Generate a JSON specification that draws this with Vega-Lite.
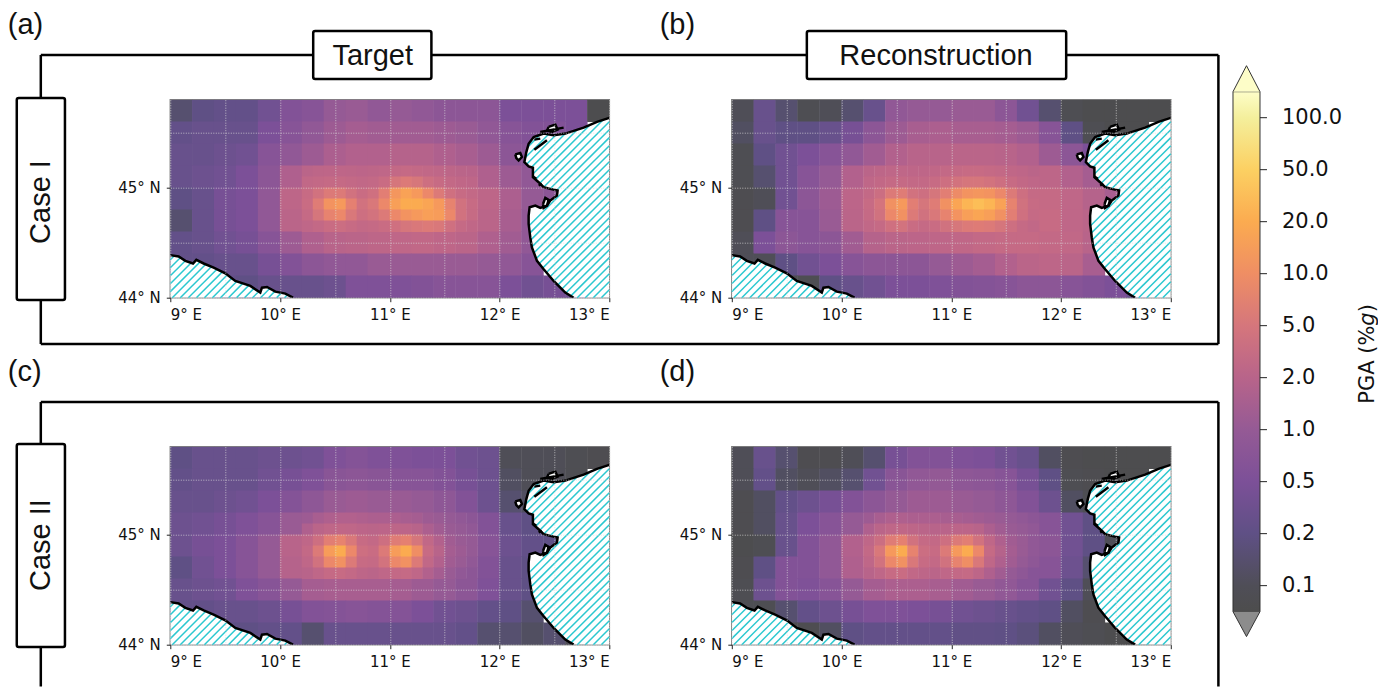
{"$schema":"https://vega.github.io/schema/vega-lite/v6.json","background":"white","padding":{"left":6.3,"top":9.7,"right":0,"bottom":0},"bounds":"flush","columns":3,"spacing":{"row":149,"column":122.5},"resolve":{"scale":{"color":"shared"}},
"config":{"legend":{"disable":true},"view":{"stroke":"#808080","strokeWidth":1.5},"axis":{"title":null,"domain":false,"grid":true,"gridColor":"#dddddd","gridOpacity":0.75,"gridDash":[1,1.5],"labelFont":"DejaVu Sans","labelFontSize":15,"labelColor":"#111","tickColor":"#222","tickSize":4,"labelPadding":6},"text":{"font":"Liberation Sans","fontSize":29,"color":"#111"}},
"datasets":{
"a":[{"x":9.1,"y":45.7,"v":0.15},{"x":9.3,"y":45.7,"v":0.2},{"x":9.5,"y":45.7,"v":0.25},{"x":9.7,"y":45.7,"v":0.25},{"x":9.9,"y":45.7,"v":0.4},{"x":10.1,"y":45.7,"v":0.6},{"x":10.3,"y":45.7,"v":0.7},{"x":10.5,"y":45.7,"v":1},{"x":10.7,"y":45.7,"v":1.1},{"x":10.9,"y":45.7,"v":0.9},{"x":11.1,"y":45.7,"v":1},{"x":11.3,"y":45.7,"v":0.9},{"x":11.5,"y":45.7,"v":0.8},{"x":11.7,"y":45.7,"v":0.8},{"x":11.9,"y":45.7,"v":0.8},{"x":12.1,"y":45.7,"v":0.5},{"x":12.3,"y":45.7,"v":0.5},{"x":12.5,"y":45.7,"v":0.5},{"x":12.7,"y":45.7,"v":0.5},{"x":12.9,"y":45.7,"v":0.06},
{"x":9.1,"y":45.5,"v":0.25},{"x":9.3,"y":45.5,"v":0.3},{"x":9.5,"y":45.5,"v":0.3},{"x":9.7,"y":45.5,"v":0.3},{"x":9.9,"y":45.5,"v":0.5},{"x":10.1,"y":45.5,"v":0.7},{"x":10.3,"y":45.5,"v":0.9},{"x":10.5,"y":45.5,"v":1.2},{"x":10.7,"y":45.5,"v":1.4},{"x":10.9,"y":45.5,"v":1.3},{"x":11.1,"y":45.5,"v":1.3},{"x":11.3,"y":45.5,"v":1.3},{"x":11.5,"y":45.5,"v":1.2},{"x":11.7,"y":45.5,"v":1.1},{"x":11.9,"y":45.5,"v":0.9},{"x":12.1,"y":45.5,"v":0.7},{"x":12.3,"y":45.5,"v":0.6},{"x":12.5,"y":45.5,"v":0.6},{"x":12.7,"y":45.5,"v":0.5},
{"x":9.1,"y":45.3,"v":0.3},{"x":9.3,"y":45.3,"v":0.3},{"x":9.5,"y":45.3,"v":0.35},{"x":9.7,"y":45.3,"v":0.4},{"x":9.9,"y":45.3,"v":0.7},{"x":10.1,"y":45.3,"v":0.9},{"x":10.3,"y":45.3,"v":1.2},{"x":10.5,"y":45.3,"v":1.6},{"x":10.7,"y":45.3,"v":1.8},{"x":10.9,"y":45.3,"v":1.8},{"x":11.1,"y":45.3,"v":1.9},{"x":11.3,"y":45.3,"v":1.9},{"x":11.5,"y":45.3,"v":1.7},{"x":11.7,"y":45.3,"v":1.5},{"x":11.9,"y":45.3,"v":1.2},{"x":12.1,"y":45.3,"v":0.8},{"x":12.3,"y":45.3,"v":0.7},
{"x":9.1,"y":45.1,"v":0.3},{"x":9.3,"y":45.1,"v":0.35},{"x":9.5,"y":45.1,"v":0.4},{"x":9.7,"y":45.1,"v":0.5},{"x":9.9,"y":45.1,"v":0.8},{"x":10.1,"y":45.1,"v":1.7},{"x":11.9,"y":45.1,"v":1.7},{"x":12.1,"y":45.1,"v":1.2},{"x":12.3,"y":45.1,"v":0.9},{"x":12.5,"y":45.1,"v":0.7},
{"x":9.1,"y":44.9,"v":0.2},{"x":9.3,"y":44.9,"v":0.3},{"x":9.5,"y":44.9,"v":0.45},{"x":9.7,"y":44.9,"v":0.5},{"x":9.9,"y":44.9,"v":0.9},{"x":10.1,"y":44.9,"v":2.4},{"x":11.9,"y":44.9,"v":2.4},{"x":12.1,"y":44.9,"v":1.6},{"x":12.3,"y":44.9,"v":1},{"x":12.5,"y":44.9,"v":0.8},
{"x":9.1,"y":44.7,"v":0.15},{"x":9.3,"y":44.7,"v":0.3},{"x":9.5,"y":44.7,"v":0.45},{"x":9.7,"y":44.7,"v":0.5},{"x":9.9,"y":44.7,"v":0.9},{"x":10.1,"y":44.7,"v":2.2},{"x":11.9,"y":44.7,"v":2.2},{"x":12.1,"y":44.7,"v":1.5},{"x":12.3,"y":44.7,"v":0.9},
{"x":9.1,"y":44.5,"v":0.25},{"x":9.3,"y":44.5,"v":0.3},{"x":9.5,"y":44.5,"v":0.4},{"x":9.7,"y":44.5,"v":0.45},{"x":9.9,"y":44.5,"v":0.7},{"x":10.1,"y":44.5,"v":1.2},{"x":10.3,"y":44.5,"v":1.7},{"x":10.5,"y":44.5,"v":2},{"x":10.7,"y":44.5,"v":2.2},{"x":10.9,"y":44.5,"v":2.4},{"x":11.1,"y":44.5,"v":2.6},{"x":11.3,"y":44.5,"v":2.8},{"x":11.5,"y":44.5,"v":2.5},{"x":11.7,"y":44.5,"v":2.2},{"x":11.9,"y":44.5,"v":1.7},{"x":12.1,"y":44.5,"v":1.3},{"x":12.3,"y":44.5,"v":0.9},
{"x":9.1,"y":44.3,"v":0.25},{"x":9.3,"y":44.3,"v":0.25},{"x":9.5,"y":44.3,"v":0.3},{"x":9.7,"y":44.3,"v":0.3},{"x":9.9,"y":44.3,"v":0.45},{"x":10.1,"y":44.3,"v":0.6},{"x":10.3,"y":44.3,"v":0.8},{"x":10.5,"y":44.3,"v":0.9},{"x":10.7,"y":44.3,"v":0.9},{"x":10.9,"y":44.3,"v":1.1},{"x":11.1,"y":44.3,"v":1.1},{"x":11.3,"y":44.3,"v":1.1},{"x":11.5,"y":44.3,"v":1.1},{"x":11.7,"y":44.3,"v":1.1},{"x":11.9,"y":44.3,"v":1},{"x":12.1,"y":44.3,"v":0.9},{"x":12.3,"y":44.3,"v":0.7},
{"x":9.5,"y":44.1,"v":0.25},{"x":9.7,"y":44.1,"v":0.2},{"x":9.9,"y":44.1,"v":0.3},{"x":10.1,"y":44.1,"v":0.3},{"x":10.3,"y":44.1,"v":0.3},{"x":10.5,"y":44.1,"v":0.35},{"x":10.7,"y":44.1,"v":0.55},{"x":10.9,"y":44.1,"v":0.55},{"x":11.1,"y":44.1,"v":0.55},{"x":11.3,"y":44.1,"v":0.6},{"x":11.5,"y":44.1,"v":0.7},{"x":11.7,"y":44.1,"v":0.7},{"x":11.9,"y":44.1,"v":0.7},{"x":12.1,"y":44.1,"v":0.5},{"x":12.3,"y":44.1,"v":0.4},{"x":12.5,"y":44.1,"v":0.45},{"x":12.7,"y":44.1,"v":0.4}],
"aF":[{"x":10.25,"y":45.15,"v":2.2},{"x":10.35,"y":45.15,"v":2.4},{"x":10.45,"y":45.15,"v":2.5},{"x":10.55,"y":45.15,"v":2.5},{"x":10.65,"y":45.15,"v":2.4},{"x":10.75,"y":45.15,"v":2.3},{"x":10.85,"y":45.15,"v":2.4},{"x":10.95,"y":45.15,"v":2.6},{"x":11.05,"y":45.15,"v":3},{"x":11.15,"y":45.15,"v":3.2},{"x":11.25,"y":45.15,"v":3},{"x":11.35,"y":45.15,"v":2.8},{"x":11.45,"y":45.15,"v":2.6},{"x":11.55,"y":45.15,"v":2.4},{"x":11.65,"y":45.15,"v":2.2},{"x":11.75,"y":45.15,"v":2.1},
{"x":10.25,"y":45.05,"v":2.8},{"x":10.35,"y":45.05,"v":3},{"x":10.45,"y":45.05,"v":3.2},{"x":10.55,"y":45.05,"v":3.2},{"x":10.65,"y":45.05,"v":3},{"x":10.75,"y":45.05,"v":2.8},{"x":10.85,"y":45.05,"v":3},{"x":10.95,"y":45.05,"v":3.6},{"x":11.05,"y":45.05,"v":5},{"x":11.15,"y":45.05,"v":6},{"x":11.25,"y":45.05,"v":5.2},{"x":11.35,"y":45.05,"v":4},{"x":11.45,"y":45.05,"v":3.4},{"x":11.55,"y":45.05,"v":3},{"x":11.65,"y":45.05,"v":2.7},{"x":11.75,"y":45.05,"v":2.5},
{"x":10.25,"y":44.95,"v":3.4},{"x":10.35,"y":44.95,"v":4.5},{"x":10.45,"y":44.95,"v":6},{"x":10.55,"y":44.95,"v":6},{"x":10.65,"y":44.95,"v":4.5},{"x":10.75,"y":44.95,"v":3.6},{"x":10.85,"y":44.95,"v":4.2},{"x":10.95,"y":44.95,"v":7},{"x":11.05,"y":44.95,"v":13},{"x":11.15,"y":44.95,"v":17},{"x":11.25,"y":44.95,"v":14},{"x":11.35,"y":44.95,"v":9},{"x":11.45,"y":44.95,"v":6},{"x":11.55,"y":44.95,"v":4.2},{"x":11.65,"y":44.95,"v":3.4},{"x":11.75,"y":44.95,"v":3},
{"x":10.25,"y":44.85,"v":3.6},{"x":10.35,"y":44.85,"v":6.5},{"x":10.45,"y":44.85,"v":12},{"x":10.55,"y":44.85,"v":14},{"x":10.65,"y":44.85,"v":7.5},{"x":10.75,"y":44.85,"v":4.5},{"x":10.85,"y":44.85,"v":5.5},{"x":10.95,"y":44.85,"v":9},{"x":11.05,"y":44.85,"v":16},{"x":11.15,"y":44.85,"v":20},{"x":11.25,"y":44.85,"v":20},{"x":11.35,"y":44.85,"v":18},{"x":11.45,"y":44.85,"v":14},{"x":11.55,"y":44.85,"v":8},{"x":11.65,"y":44.85,"v":4.5},{"x":11.75,"y":44.85,"v":3.4},
{"x":10.25,"y":44.75,"v":3.2},{"x":10.35,"y":44.75,"v":5},{"x":10.45,"y":44.75,"v":8},{"x":10.55,"y":44.75,"v":9},{"x":10.65,"y":44.75,"v":5.5},{"x":10.75,"y":44.75,"v":4},{"x":10.85,"y":44.75,"v":4.6},{"x":10.95,"y":44.75,"v":6},{"x":11.05,"y":44.75,"v":9},{"x":11.15,"y":44.75,"v":12},{"x":11.25,"y":44.75,"v":14},{"x":11.35,"y":44.75,"v":16},{"x":11.45,"y":44.75,"v":15},{"x":11.55,"y":44.75,"v":9},{"x":11.65,"y":44.75,"v":4.5},{"x":11.75,"y":44.75,"v":3.3},
{"x":10.25,"y":44.65,"v":2.6},{"x":10.35,"y":44.65,"v":3},{"x":10.45,"y":44.65,"v":3.6},{"x":10.55,"y":44.65,"v":3.8},{"x":10.65,"y":44.65,"v":3.4},{"x":10.75,"y":44.65,"v":3},{"x":10.85,"y":44.65,"v":3.2},{"x":10.95,"y":44.65,"v":3.6},{"x":11.05,"y":44.65,"v":4.2},{"x":11.15,"y":44.65,"v":5},{"x":11.25,"y":44.65,"v":5.5},{"x":11.35,"y":44.65,"v":6},{"x":11.45,"y":44.65,"v":5.5},{"x":11.55,"y":44.65,"v":4.2},{"x":11.65,"y":44.65,"v":3.2},{"x":11.75,"y":44.65,"v":2.7}],
"b":[{"x":9.1,"y":45.7,"v":0.1},{"x":9.3,"y":45.7,"v":0.3},{"x":9.5,"y":45.7,"v":0.15},{"x":9.7,"y":45.7,"v":0.08},{"x":9.9,"y":45.7,"v":0.1},{"x":10.1,"y":45.7,"v":0.15},{"x":10.3,"y":45.7,"v":0.3},{"x":10.5,"y":45.7,"v":0.9},{"x":10.7,"y":45.7,"v":1},{"x":10.9,"y":45.7,"v":1},{"x":11.1,"y":45.7,"v":1.1},{"x":11.3,"y":45.7,"v":1.1},{"x":11.5,"y":45.7,"v":0.8},{"x":11.7,"y":45.7,"v":0.4},{"x":11.9,"y":45.7,"v":0.15},{"x":12.1,"y":45.7,"v":0.08},{"x":12.3,"y":45.7,"v":0.06},{"x":12.5,"y":45.7,"v":0.06},{"x":12.7,"y":45.7,"v":0.06},{"x":12.9,"y":45.7,"v":0.06},
{"x":9.1,"y":45.5,"v":0.12},{"x":9.3,"y":45.5,"v":0.3},{"x":9.5,"y":45.5,"v":0.2},{"x":9.7,"y":45.5,"v":0.2},{"x":9.9,"y":45.5,"v":0.3},{"x":10.1,"y":45.5,"v":0.45},{"x":10.3,"y":45.5,"v":0.8},{"x":10.5,"y":45.5,"v":1.2},{"x":10.7,"y":45.5,"v":1.5},{"x":10.9,"y":45.5,"v":1.6},{"x":11.1,"y":45.5,"v":1.5},{"x":11.3,"y":45.5,"v":1.5},{"x":11.5,"y":45.5,"v":1.4},{"x":11.7,"y":45.5,"v":1.2},{"x":11.9,"y":45.5,"v":0.7},{"x":12.1,"y":45.5,"v":0.2},{"x":12.3,"y":45.5,"v":0.08},{"x":12.5,"y":45.5,"v":0.06},{"x":12.7,"y":45.5,"v":0.06},
{"x":9.1,"y":45.3,"v":0.08},{"x":9.3,"y":45.3,"v":0.2},{"x":9.5,"y":45.3,"v":0.4},{"x":9.7,"y":45.3,"v":0.5},{"x":9.9,"y":45.3,"v":0.7},{"x":10.1,"y":45.3,"v":0.9},{"x":10.3,"y":45.3,"v":1.3},{"x":10.5,"y":45.3,"v":1.8},{"x":10.7,"y":45.3,"v":2},{"x":10.9,"y":45.3,"v":2},{"x":11.1,"y":45.3,"v":2.2},{"x":11.3,"y":45.3,"v":2.2},{"x":11.5,"y":45.3,"v":2},{"x":11.7,"y":45.3,"v":1.8},{"x":11.9,"y":45.3,"v":1.2},{"x":12.1,"y":45.3,"v":0.8},{"x":12.3,"y":45.3,"v":0.5},
{"x":9.1,"y":45.1,"v":0.08},{"x":9.3,"y":45.1,"v":0.15},{"x":9.5,"y":45.1,"v":0.4},{"x":9.7,"y":45.1,"v":0.7},{"x":9.9,"y":45.1,"v":1},{"x":10.1,"y":45.1,"v":1.8},{"x":11.9,"y":45.1,"v":2.4},{"x":12.1,"y":45.1,"v":1.8},{"x":12.3,"y":45.1,"v":1.4},{"x":12.5,"y":45.1,"v":1},
{"x":9.1,"y":44.9,"v":0.07},{"x":9.3,"y":44.9,"v":0.1},{"x":9.5,"y":44.9,"v":0.4},{"x":9.7,"y":44.9,"v":0.8},{"x":9.9,"y":44.9,"v":1.2},{"x":10.1,"y":44.9,"v":2.3},{"x":11.9,"y":44.9,"v":3.2},{"x":12.1,"y":44.9,"v":2.6},{"x":12.3,"y":44.9,"v":1.9},{"x":12.5,"y":44.9,"v":1.5},
{"x":9.1,"y":44.7,"v":0.07},{"x":9.3,"y":44.7,"v":0.2},{"x":9.5,"y":44.7,"v":0.7},{"x":9.7,"y":44.7,"v":0.7},{"x":9.9,"y":44.7,"v":1.1},{"x":10.1,"y":44.7,"v":2.2},{"x":11.9,"y":44.7,"v":3.4},{"x":12.1,"y":44.7,"v":2.6},{"x":12.3,"y":44.7,"v":2.2},
{"x":9.1,"y":44.5,"v":0.1},{"x":9.3,"y":44.5,"v":0.5},{"x":9.5,"y":44.5,"v":0.8},{"x":9.7,"y":44.5,"v":0.7},{"x":9.9,"y":44.5,"v":0.8},{"x":10.1,"y":44.5,"v":1.3},{"x":10.3,"y":44.5,"v":1.9},{"x":10.5,"y":44.5,"v":2.2},{"x":10.7,"y":44.5,"v":2.3},{"x":10.9,"y":44.5,"v":2.5},{"x":11.1,"y":44.5,"v":2.7},{"x":11.3,"y":44.5,"v":3},{"x":11.5,"y":44.5,"v":3.2},{"x":11.7,"y":44.5,"v":3.2},{"x":11.9,"y":44.5,"v":3},{"x":12.1,"y":44.5,"v":2.8},{"x":12.3,"y":44.5,"v":2},
{"x":9.1,"y":44.3,"v":0.1},{"x":9.3,"y":44.3,"v":0.1},{"x":9.5,"y":44.3,"v":0.2},{"x":9.7,"y":44.3,"v":0.4},{"x":9.9,"y":44.3,"v":0.5},{"x":10.1,"y":44.3,"v":0.7},{"x":10.3,"y":44.3,"v":0.8},{"x":10.5,"y":44.3,"v":0.8},{"x":10.7,"y":44.3,"v":0.8},{"x":10.9,"y":44.3,"v":1},{"x":11.1,"y":44.3,"v":1.2},{"x":11.3,"y":44.3,"v":1.4},{"x":11.5,"y":44.3,"v":1.8},{"x":11.7,"y":44.3,"v":2.2},{"x":11.9,"y":44.3,"v":2.4},{"x":12.1,"y":44.3,"v":2.2},{"x":12.3,"y":44.3,"v":1.5},
{"x":9.5,"y":44.1,"v":0.08},{"x":9.7,"y":44.1,"v":0.08},{"x":9.9,"y":44.1,"v":0.2},{"x":10.1,"y":44.1,"v":0.3},{"x":10.3,"y":44.1,"v":0.4},{"x":10.5,"y":44.1,"v":0.5},{"x":10.7,"y":44.1,"v":0.5},{"x":10.9,"y":44.1,"v":0.55},{"x":11.1,"y":44.1,"v":0.6},{"x":11.3,"y":44.1,"v":0.65},{"x":11.5,"y":44.1,"v":0.7},{"x":11.7,"y":44.1,"v":0.8},{"x":11.9,"y":44.1,"v":0.8},{"x":12.1,"y":44.1,"v":0.7},{"x":12.3,"y":44.1,"v":0.6},{"x":12.5,"y":44.1,"v":0.5},{"x":12.7,"y":44.1,"v":0.3}],
"bF":[{"x":10.25,"y":45.15,"v":2.2},{"x":10.35,"y":45.15,"v":2.4},{"x":10.45,"y":45.15,"v":2.6},{"x":10.55,"y":45.15,"v":2.6},{"x":10.65,"y":45.15,"v":2.5},{"x":10.75,"y":45.15,"v":2.5},{"x":10.85,"y":45.15,"v":2.7},{"x":10.95,"y":45.15,"v":3},{"x":11.05,"y":45.15,"v":3.2},{"x":11.15,"y":45.15,"v":3.4},{"x":11.25,"y":45.15,"v":3.4},{"x":11.35,"y":45.15,"v":3.2},{"x":11.45,"y":45.15,"v":3},{"x":11.55,"y":45.15,"v":2.7},{"x":11.65,"y":45.15,"v":2.5},{"x":11.75,"y":45.15,"v":2.2},
{"x":10.25,"y":45.05,"v":2.6},{"x":10.35,"y":45.05,"v":2.9},{"x":10.45,"y":45.05,"v":3.2},{"x":10.55,"y":45.05,"v":3.2},{"x":10.65,"y":45.05,"v":3},{"x":10.75,"y":45.05,"v":3},{"x":10.85,"y":45.05,"v":3.4},{"x":10.95,"y":45.05,"v":4},{"x":11.05,"y":45.05,"v":4.6},{"x":11.15,"y":45.05,"v":5},{"x":11.25,"y":45.05,"v":5},{"x":11.35,"y":45.05,"v":4.6},{"x":11.45,"y":45.05,"v":4},{"x":11.55,"y":45.05,"v":3.4},{"x":11.65,"y":45.05,"v":2.9},{"x":11.75,"y":45.05,"v":2.6},
{"x":10.25,"y":44.95,"v":3},{"x":10.35,"y":44.95,"v":3.8},{"x":10.45,"y":44.95,"v":6},{"x":10.55,"y":44.95,"v":6.5},{"x":10.65,"y":44.95,"v":4.5},{"x":10.75,"y":44.95,"v":4},{"x":10.85,"y":44.95,"v":5},{"x":10.95,"y":44.95,"v":7},{"x":11.05,"y":44.95,"v":9.5},{"x":11.15,"y":44.95,"v":12},{"x":11.25,"y":44.95,"v":13},{"x":11.35,"y":44.95,"v":12},{"x":11.45,"y":44.95,"v":9},{"x":11.55,"y":44.95,"v":6},{"x":11.65,"y":44.95,"v":4},{"x":11.75,"y":44.95,"v":3.2},
{"x":10.25,"y":44.85,"v":3.4},{"x":10.35,"y":44.85,"v":4.8},{"x":10.45,"y":44.85,"v":11},{"x":10.55,"y":44.85,"v":14},{"x":10.65,"y":44.85,"v":7},{"x":10.75,"y":44.85,"v":5},{"x":10.85,"y":44.85,"v":6.5},{"x":10.95,"y":44.85,"v":11},{"x":11.05,"y":44.85,"v":18},{"x":11.15,"y":44.85,"v":28},{"x":11.25,"y":44.85,"v":35},{"x":11.35,"y":44.85,"v":28},{"x":11.45,"y":44.85,"v":17},{"x":11.55,"y":44.85,"v":8},{"x":11.65,"y":44.85,"v":4.4},{"x":11.75,"y":44.85,"v":3.4},
{"x":10.25,"y":44.75,"v":3.2},{"x":10.35,"y":44.75,"v":4.4},{"x":10.45,"y":44.75,"v":9},{"x":10.55,"y":44.75,"v":11},{"x":10.65,"y":44.75,"v":6},{"x":10.75,"y":44.75,"v":4.4},{"x":10.85,"y":44.75,"v":5.5},{"x":10.95,"y":44.75,"v":8},{"x":11.05,"y":44.75,"v":12},{"x":11.15,"y":44.75,"v":16},{"x":11.25,"y":44.75,"v":18},{"x":11.35,"y":44.75,"v":16},{"x":11.45,"y":44.75,"v":11},{"x":11.55,"y":44.75,"v":7},{"x":11.65,"y":44.75,"v":4.2},{"x":11.75,"y":44.75,"v":3.2},
{"x":10.25,"y":44.65,"v":2.8},{"x":10.35,"y":44.65,"v":3.2},{"x":10.45,"y":44.65,"v":4.2},{"x":10.55,"y":44.65,"v":4.6},{"x":10.65,"y":44.65,"v":3.6},{"x":10.75,"y":44.65,"v":3.2},{"x":10.85,"y":44.65,"v":3.6},{"x":10.95,"y":44.65,"v":4.4},{"x":11.05,"y":44.65,"v":5.2},{"x":11.15,"y":44.65,"v":6},{"x":11.25,"y":44.65,"v":6.4},{"x":11.35,"y":44.65,"v":6},{"x":11.45,"y":44.65,"v":5},{"x":11.55,"y":44.65,"v":4},{"x":11.65,"y":44.65,"v":3.2},{"x":11.75,"y":44.65,"v":2.8}],
"c":[{"x":9.1,"y":45.7,"v":0.2},{"x":9.3,"y":45.7,"v":0.3},{"x":9.5,"y":45.7,"v":0.3},{"x":9.7,"y":45.7,"v":0.3},{"x":9.9,"y":45.7,"v":0.35},{"x":10.1,"y":45.7,"v":0.35},{"x":10.3,"y":45.7,"v":0.4},{"x":10.5,"y":45.7,"v":0.55},{"x":10.7,"y":45.7,"v":0.65},{"x":10.9,"y":45.7,"v":0.55},{"x":11.1,"y":45.7,"v":0.55},{"x":11.3,"y":45.7,"v":0.5},{"x":11.5,"y":45.7,"v":0.5},{"x":11.7,"y":45.7,"v":0.4},{"x":11.9,"y":45.7,"v":0.35},{"x":12.1,"y":45.7,"v":0.1},{"x":12.3,"y":45.7,"v":0.1},{"x":12.5,"y":45.7,"v":0.1},{"x":12.7,"y":45.7,"v":0.08},{"x":12.9,"y":45.7,"v":0.07},
{"x":9.1,"y":45.5,"v":0.25},{"x":9.3,"y":45.5,"v":0.3},{"x":9.5,"y":45.5,"v":0.3},{"x":9.7,"y":45.5,"v":0.3},{"x":9.9,"y":45.5,"v":0.4},{"x":10.1,"y":45.5,"v":0.45},{"x":10.3,"y":45.5,"v":0.55},{"x":10.5,"y":45.5,"v":0.75},{"x":10.7,"y":45.5,"v":0.8},{"x":10.9,"y":45.5,"v":0.75},{"x":11.1,"y":45.5,"v":0.7},{"x":11.3,"y":45.5,"v":0.7},{"x":11.5,"y":45.5,"v":0.6},{"x":11.7,"y":45.5,"v":0.45},{"x":11.9,"y":45.5,"v":0.35},{"x":12.1,"y":45.5,"v":0.12},{"x":12.3,"y":45.5,"v":0.1},{"x":12.5,"y":45.5,"v":0.1},{"x":12.7,"y":45.5,"v":0.08},
{"x":9.1,"y":45.3,"v":0.3},{"x":9.3,"y":45.3,"v":0.3},{"x":9.5,"y":45.3,"v":0.35},{"x":9.7,"y":45.3,"v":0.4},{"x":9.9,"y":45.3,"v":0.5},{"x":10.1,"y":45.3,"v":0.65},{"x":10.3,"y":45.3,"v":0.85},{"x":10.5,"y":45.3,"v":1.1},{"x":10.7,"y":45.3,"v":1.2},{"x":10.9,"y":45.3,"v":1.1},{"x":11.1,"y":45.3,"v":1.1},{"x":11.3,"y":45.3,"v":1},{"x":11.5,"y":45.3,"v":0.85},{"x":11.7,"y":45.3,"v":0.6},{"x":11.9,"y":45.3,"v":0.35},{"x":12.1,"y":45.3,"v":0.15},{"x":12.3,"y":45.3,"v":0.12},
{"x":9.1,"y":45.1,"v":0.35},{"x":9.3,"y":45.1,"v":0.4},{"x":9.5,"y":45.1,"v":0.45},{"x":9.7,"y":45.1,"v":0.55},{"x":9.9,"y":45.1,"v":0.7},{"x":10.1,"y":45.1,"v":1.1},{"x":11.9,"y":45.1,"v":0.6},{"x":12.1,"y":45.1,"v":0.3},{"x":12.3,"y":45.1,"v":0.2},{"x":12.5,"y":45.1,"v":0.15},
{"x":9.1,"y":44.9,"v":0.35},{"x":9.3,"y":44.9,"v":0.45},{"x":9.5,"y":44.9,"v":0.5},{"x":9.7,"y":44.9,"v":0.7},{"x":9.9,"y":44.9,"v":1},{"x":10.1,"y":44.9,"v":2},{"x":11.9,"y":44.9,"v":0.7},{"x":12.1,"y":44.9,"v":0.35},{"x":12.3,"y":44.9,"v":0.25},{"x":12.5,"y":44.9,"v":0.2},
{"x":9.1,"y":44.7,"v":0.2},{"x":9.3,"y":44.7,"v":0.4},{"x":9.5,"y":44.7,"v":0.5},{"x":9.7,"y":44.7,"v":0.7},{"x":9.9,"y":44.7,"v":1},{"x":10.1,"y":44.7,"v":1.9},{"x":11.9,"y":44.7,"v":0.6},{"x":12.1,"y":44.7,"v":0.3},{"x":12.3,"y":44.7,"v":0.2},
{"x":9.1,"y":44.5,"v":0.3},{"x":9.3,"y":44.5,"v":0.35},{"x":9.5,"y":44.5,"v":0.4},{"x":9.7,"y":44.5,"v":0.55},{"x":9.9,"y":44.5,"v":0.7},{"x":10.1,"y":44.5,"v":1},{"x":10.3,"y":44.5,"v":1.4},{"x":10.5,"y":44.5,"v":1.5},{"x":10.7,"y":44.5,"v":1.5},{"x":10.9,"y":44.5,"v":1.5},{"x":11.1,"y":44.5,"v":1.4},{"x":11.3,"y":44.5,"v":1.2},{"x":11.5,"y":44.5,"v":1},{"x":11.7,"y":44.5,"v":0.8},{"x":11.9,"y":44.5,"v":0.55},{"x":12.1,"y":44.5,"v":0.3},{"x":12.3,"y":44.5,"v":0.2},
{"x":9.1,"y":44.3,"v":0.25},{"x":9.3,"y":44.3,"v":0.25},{"x":9.5,"y":44.3,"v":0.3},{"x":9.7,"y":44.3,"v":0.3},{"x":9.9,"y":44.3,"v":0.35},{"x":10.1,"y":44.3,"v":0.45},{"x":10.3,"y":44.3,"v":0.6},{"x":10.5,"y":44.3,"v":0.65},{"x":10.7,"y":44.3,"v":0.7},{"x":10.9,"y":44.3,"v":0.65},{"x":11.1,"y":44.3,"v":0.65},{"x":11.3,"y":44.3,"v":0.5},{"x":11.5,"y":44.3,"v":0.4},{"x":11.7,"y":44.3,"v":0.35},{"x":11.9,"y":44.3,"v":0.25},{"x":12.1,"y":44.3,"v":0.2},{"x":12.3,"y":44.3,"v":0.15},
{"x":9.5,"y":44.1,"v":0.2},{"x":9.7,"y":44.1,"v":0.2},{"x":9.9,"y":44.1,"v":0.25},{"x":10.1,"y":44.1,"v":0.25},{"x":10.3,"y":44.1,"v":0.15},{"x":10.5,"y":44.1,"v":0.3},{"x":10.7,"y":44.1,"v":0.3},{"x":10.9,"y":44.1,"v":0.3},{"x":11.1,"y":44.1,"v":0.3},{"x":11.3,"y":44.1,"v":0.3},{"x":11.5,"y":44.1,"v":0.3},{"x":11.7,"y":44.1,"v":0.25},{"x":11.9,"y":44.1,"v":0.15},{"x":12.1,"y":44.1,"v":0.15},{"x":12.3,"y":44.1,"v":0.12},{"x":12.5,"y":44.1,"v":0.15},{"x":12.7,"y":44.1,"v":0.1}],
"cF":[{"x":10.25,"y":45.15,"v":1.2},{"x":10.35,"y":45.15,"v":1.5},{"x":10.45,"y":45.15,"v":1.7},{"x":10.55,"y":45.15,"v":1.8},{"x":10.65,"y":45.15,"v":1.8},{"x":10.75,"y":45.15,"v":1.7},{"x":10.85,"y":45.15,"v":1.6},{"x":10.95,"y":45.15,"v":1.6},{"x":11.05,"y":45.15,"v":1.6},{"x":11.15,"y":45.15,"v":1.5},{"x":11.25,"y":45.15,"v":1.4},{"x":11.35,"y":45.15,"v":1.2},{"x":11.45,"y":45.15,"v":1.1},{"x":11.55,"y":45.15,"v":1},{"x":11.65,"y":45.15,"v":0.9},{"x":11.75,"y":45.15,"v":0.8},
{"x":10.25,"y":45.05,"v":1.7},{"x":10.35,"y":45.05,"v":2.2},{"x":10.45,"y":45.05,"v":2.6},{"x":10.55,"y":45.05,"v":2.7},{"x":10.65,"y":45.05,"v":2.6},{"x":10.75,"y":45.05,"v":2.3},{"x":10.85,"y":45.05,"v":2.2},{"x":10.95,"y":45.05,"v":2.3},{"x":11.05,"y":45.05,"v":2.4},{"x":11.15,"y":45.05,"v":2.3},{"x":11.25,"y":45.05,"v":2},{"x":11.35,"y":45.05,"v":1.6},{"x":11.45,"y":45.05,"v":1.3},{"x":11.55,"y":45.05,"v":1.1},{"x":11.65,"y":45.05,"v":1},{"x":11.75,"y":45.05,"v":0.9},
{"x":10.25,"y":44.95,"v":2.6},{"x":10.35,"y":44.95,"v":4},{"x":10.45,"y":44.95,"v":7},{"x":10.55,"y":44.95,"v":8},{"x":10.65,"y":44.95,"v":5.5},{"x":10.75,"y":44.95,"v":3.4},{"x":10.85,"y":44.95,"v":3},{"x":10.95,"y":44.95,"v":4},{"x":11.05,"y":44.95,"v":6.5},{"x":11.15,"y":44.95,"v":7.5},{"x":11.25,"y":44.95,"v":5},{"x":11.35,"y":44.95,"v":2.8},{"x":11.45,"y":44.95,"v":1.8},{"x":11.55,"y":44.95,"v":1.3},{"x":11.65,"y":44.95,"v":1.1},{"x":11.75,"y":44.95,"v":1},
{"x":10.25,"y":44.85,"v":3},{"x":10.35,"y":44.85,"v":6},{"x":10.45,"y":44.85,"v":15},{"x":10.55,"y":44.85,"v":20},{"x":10.65,"y":44.85,"v":9},{"x":10.75,"y":44.85,"v":4},{"x":10.85,"y":44.85,"v":3.6},{"x":10.95,"y":44.85,"v":6},{"x":11.05,"y":44.85,"v":15},{"x":11.15,"y":44.85,"v":20},{"x":11.25,"y":44.85,"v":10},{"x":11.35,"y":44.85,"v":3.4},{"x":11.45,"y":44.85,"v":2},{"x":11.55,"y":44.85,"v":1.4},{"x":11.65,"y":44.85,"v":1.2},{"x":11.75,"y":44.85,"v":1},
{"x":10.25,"y":44.75,"v":2.6},{"x":10.35,"y":44.75,"v":4.5},{"x":10.45,"y":44.75,"v":9},{"x":10.55,"y":44.75,"v":11},{"x":10.65,"y":44.75,"v":6},{"x":10.75,"y":44.75,"v":3.4},{"x":10.85,"y":44.75,"v":3.2},{"x":10.95,"y":44.75,"v":4.6},{"x":11.05,"y":44.75,"v":9},{"x":11.15,"y":44.75,"v":11},{"x":11.25,"y":44.75,"v":6},{"x":11.35,"y":44.75,"v":2.8},{"x":11.45,"y":44.75,"v":1.8},{"x":11.55,"y":44.75,"v":1.3},{"x":11.65,"y":44.75,"v":1.1},{"x":11.75,"y":44.75,"v":0.9},
{"x":10.25,"y":44.65,"v":2},{"x":10.35,"y":44.65,"v":2.6},{"x":10.45,"y":44.65,"v":3.2},{"x":10.55,"y":44.65,"v":3.4},{"x":10.65,"y":44.65,"v":3},{"x":10.75,"y":44.65,"v":2.4},{"x":10.85,"y":44.65,"v":2.2},{"x":10.95,"y":44.65,"v":2.6},{"x":11.05,"y":44.65,"v":3},{"x":11.15,"y":44.65,"v":3.2},{"x":11.25,"y":44.65,"v":2.6},{"x":11.35,"y":44.65,"v":1.8},{"x":11.45,"y":44.65,"v":1.4},{"x":11.55,"y":44.65,"v":1.1},{"x":11.65,"y":44.65,"v":0.9},{"x":11.75,"y":44.65,"v":0.8}],
"d":[{"x":9.1,"y":45.7,"v":0.1},{"x":9.3,"y":45.7,"v":0.3},{"x":9.5,"y":45.7,"v":0.15},{"x":9.7,"y":45.7,"v":0.07},{"x":9.9,"y":45.7,"v":0.07},{"x":10.1,"y":45.7,"v":0.1},{"x":10.3,"y":45.7,"v":0.15},{"x":10.5,"y":45.7,"v":0.45},{"x":10.7,"y":45.7,"v":0.6},{"x":10.9,"y":45.7,"v":0.6},{"x":11.1,"y":45.7,"v":0.55},{"x":11.3,"y":45.7,"v":0.5},{"x":11.5,"y":45.7,"v":0.4},{"x":11.7,"y":45.7,"v":0.3},{"x":11.9,"y":45.7,"v":0.12},{"x":12.1,"y":45.7,"v":0.07},{"x":12.3,"y":45.7,"v":0.06},{"x":12.5,"y":45.7,"v":0.06},{"x":12.7,"y":45.7,"v":0.06},{"x":12.9,"y":45.7,"v":0.06},
{"x":9.1,"y":45.5,"v":0.1},{"x":9.3,"y":45.5,"v":0.25},{"x":9.5,"y":45.5,"v":0.12},{"x":9.7,"y":45.5,"v":0.1},{"x":9.9,"y":45.5,"v":0.12},{"x":10.1,"y":45.5,"v":0.15},{"x":10.3,"y":45.5,"v":0.4},{"x":10.5,"y":45.5,"v":0.75},{"x":10.7,"y":45.5,"v":0.9},{"x":10.9,"y":45.5,"v":0.95},{"x":11.1,"y":45.5,"v":0.85},{"x":11.3,"y":45.5,"v":0.8},{"x":11.5,"y":45.5,"v":0.7},{"x":11.7,"y":45.5,"v":0.45},{"x":11.9,"y":45.5,"v":0.2},{"x":12.1,"y":45.5,"v":0.08},{"x":12.3,"y":45.5,"v":0.07},{"x":12.5,"y":45.5,"v":0.06},{"x":12.7,"y":45.5,"v":0.06},
{"x":9.1,"y":45.3,"v":0.07},{"x":9.3,"y":45.3,"v":0.12},{"x":9.5,"y":45.3,"v":0.25},{"x":9.7,"y":45.3,"v":0.35},{"x":9.9,"y":45.3,"v":0.45},{"x":10.1,"y":45.3,"v":0.6},{"x":10.3,"y":45.3,"v":0.8},{"x":10.5,"y":45.3,"v":1},{"x":10.7,"y":45.3,"v":1.2},{"x":10.9,"y":45.3,"v":1.2},{"x":11.1,"y":45.3,"v":1.1},{"x":11.3,"y":45.3,"v":1},{"x":11.5,"y":45.3,"v":0.85},{"x":11.7,"y":45.3,"v":0.6},{"x":11.9,"y":45.3,"v":0.35},{"x":12.1,"y":45.3,"v":0.12},{"x":12.3,"y":45.3,"v":0.08},
{"x":9.1,"y":45.1,"v":0.07},{"x":9.3,"y":45.1,"v":0.12},{"x":9.5,"y":45.1,"v":0.3},{"x":9.7,"y":45.1,"v":0.5},{"x":9.9,"y":45.1,"v":0.7},{"x":10.1,"y":45.1,"v":1},{"x":11.9,"y":45.1,"v":0.7},{"x":12.1,"y":45.1,"v":0.4},{"x":12.3,"y":45.1,"v":0.2},{"x":12.5,"y":45.1,"v":0.1},
{"x":9.1,"y":44.9,"v":0.06},{"x":9.3,"y":44.9,"v":0.08},{"x":9.5,"y":44.9,"v":0.3},{"x":9.7,"y":44.9,"v":0.6},{"x":9.9,"y":44.9,"v":0.9},{"x":10.1,"y":44.9,"v":1.8},{"x":11.9,"y":44.9,"v":0.8},{"x":12.1,"y":44.9,"v":0.4},{"x":12.3,"y":44.9,"v":0.2},{"x":12.5,"y":44.9,"v":0.1},
{"x":9.1,"y":44.7,"v":0.07},{"x":9.3,"y":44.7,"v":0.2},{"x":9.5,"y":44.7,"v":0.6},{"x":9.7,"y":44.7,"v":0.6},{"x":9.9,"y":44.7,"v":0.9},{"x":10.1,"y":44.7,"v":1.7},{"x":11.9,"y":44.7,"v":0.7},{"x":12.1,"y":44.7,"v":0.35},{"x":12.3,"y":44.7,"v":0.15},
{"x":9.1,"y":44.5,"v":0.08},{"x":9.3,"y":44.5,"v":0.35},{"x":9.5,"y":44.5,"v":0.6},{"x":9.7,"y":44.5,"v":0.55},{"x":9.9,"y":44.5,"v":0.7},{"x":10.1,"y":44.5,"v":1},{"x":10.3,"y":44.5,"v":1.4},{"x":10.5,"y":44.5,"v":1.6},{"x":10.7,"y":44.5,"v":1.6},{"x":10.9,"y":44.5,"v":1.5},{"x":11.1,"y":44.5,"v":1.3},{"x":11.3,"y":44.5,"v":1.1},{"x":11.5,"y":44.5,"v":0.9},{"x":11.7,"y":44.5,"v":0.7},{"x":11.9,"y":44.5,"v":0.4},{"x":12.1,"y":44.5,"v":0.2},{"x":12.3,"y":44.5,"v":0.1},
{"x":9.1,"y":44.3,"v":0.08},{"x":9.3,"y":44.3,"v":0.08},{"x":9.5,"y":44.3,"v":0.15},{"x":9.7,"y":44.3,"v":0.25},{"x":9.9,"y":44.3,"v":0.35},{"x":10.1,"y":44.3,"v":0.45},{"x":10.3,"y":44.3,"v":0.55},{"x":10.5,"y":44.3,"v":0.55},{"x":10.7,"y":44.3,"v":0.5},{"x":10.9,"y":44.3,"v":0.45},{"x":11.1,"y":44.3,"v":0.4},{"x":11.3,"y":44.3,"v":0.35},{"x":11.5,"y":44.3,"v":0.3},{"x":11.7,"y":44.3,"v":0.25},{"x":11.9,"y":44.3,"v":0.2},{"x":12.1,"y":44.3,"v":0.12},{"x":12.3,"y":44.3,"v":0.07},
{"x":9.5,"y":44.1,"v":0.07},{"x":9.7,"y":44.1,"v":0.07},{"x":9.9,"y":44.1,"v":0.12},{"x":10.1,"y":44.1,"v":0.2},{"x":10.3,"y":44.1,"v":0.25},{"x":10.5,"y":44.1,"v":0.25},{"x":10.7,"y":44.1,"v":0.25},{"x":10.9,"y":44.1,"v":0.25},{"x":11.1,"y":44.1,"v":0.22},{"x":11.3,"y":44.1,"v":0.22},{"x":11.5,"y":44.1,"v":0.2},{"x":11.7,"y":44.1,"v":0.18},{"x":11.9,"y":44.1,"v":0.12},{"x":12.1,"y":44.1,"v":0.1},{"x":12.3,"y":44.1,"v":0.08},{"x":12.5,"y":44.1,"v":0.06},{"x":12.7,"y":44.1,"v":0.06}],
"dF":[{"x":10.25,"y":45.15,"v":1.2},{"x":10.35,"y":45.15,"v":1.5},{"x":10.45,"y":45.15,"v":1.7},{"x":10.55,"y":45.15,"v":1.7},{"x":10.65,"y":45.15,"v":1.6},{"x":10.75,"y":45.15,"v":1.6},{"x":10.85,"y":45.15,"v":1.6},{"x":10.95,"y":45.15,"v":1.5},{"x":11.05,"y":45.15,"v":1.5},{"x":11.15,"y":45.15,"v":1.4},{"x":11.25,"y":45.15,"v":1.3},{"x":11.35,"y":45.15,"v":1.2},{"x":11.45,"y":45.15,"v":1.1},{"x":11.55,"y":45.15,"v":1},{"x":11.65,"y":45.15,"v":0.9},{"x":11.75,"y":45.15,"v":0.8},
{"x":10.25,"y":45.05,"v":1.7},{"x":10.35,"y":45.05,"v":2.2},{"x":10.45,"y":45.05,"v":2.6},{"x":10.55,"y":45.05,"v":2.7},{"x":10.65,"y":45.05,"v":2.4},{"x":10.75,"y":45.05,"v":2.2},{"x":10.85,"y":45.05,"v":2},{"x":10.95,"y":45.05,"v":2.1},{"x":11.05,"y":45.05,"v":2.3},{"x":11.15,"y":45.05,"v":2.3},{"x":11.25,"y":45.05,"v":2},{"x":11.35,"y":45.05,"v":1.6},{"x":11.45,"y":45.05,"v":1.3},{"x":11.55,"y":45.05,"v":1.1},{"x":11.65,"y":45.05,"v":1},{"x":11.75,"y":45.05,"v":0.9},
{"x":10.25,"y":44.95,"v":2.6},{"x":10.35,"y":44.95,"v":3.8},{"x":10.45,"y":44.95,"v":6.5},{"x":10.55,"y":44.95,"v":7.5},{"x":10.65,"y":44.95,"v":4.5},{"x":10.75,"y":44.95,"v":3.2},{"x":10.85,"y":44.95,"v":3},{"x":10.95,"y":44.95,"v":4},{"x":11.05,"y":44.95,"v":6},{"x":11.15,"y":44.95,"v":7},{"x":11.25,"y":44.95,"v":4.5},{"x":11.35,"y":44.95,"v":2.6},{"x":11.45,"y":44.95,"v":1.7},{"x":11.55,"y":44.95,"v":1.3},{"x":11.65,"y":44.95,"v":1.1},{"x":11.75,"y":44.95,"v":0.9},
{"x":10.25,"y":44.85,"v":3},{"x":10.35,"y":44.85,"v":5.5},{"x":10.45,"y":44.85,"v":14},{"x":10.55,"y":44.85,"v":20},{"x":10.65,"y":44.85,"v":8},{"x":10.75,"y":44.85,"v":3.8},{"x":10.85,"y":44.85,"v":3.4},{"x":10.95,"y":44.85,"v":6},{"x":11.05,"y":44.85,"v":14},{"x":11.15,"y":44.85,"v":20},{"x":11.25,"y":44.85,"v":9},{"x":11.35,"y":44.85,"v":3.2},{"x":11.45,"y":44.85,"v":1.9},{"x":11.55,"y":44.85,"v":1.4},{"x":11.65,"y":44.85,"v":1.1},{"x":11.75,"y":44.85,"v":0.9},
{"x":10.25,"y":44.75,"v":2.6},{"x":10.35,"y":44.75,"v":4.5},{"x":10.45,"y":44.75,"v":9},{"x":10.55,"y":44.75,"v":11},{"x":10.65,"y":44.75,"v":5.5},{"x":10.75,"y":44.75,"v":3.4},{"x":10.85,"y":44.75,"v":3},{"x":10.95,"y":44.75,"v":4.4},{"x":11.05,"y":44.75,"v":8},{"x":11.15,"y":44.75,"v":10},{"x":11.25,"y":44.75,"v":5.5},{"x":11.35,"y":44.75,"v":2.6},{"x":11.45,"y":44.75,"v":1.7},{"x":11.55,"y":44.75,"v":1.3},{"x":11.65,"y":44.75,"v":1},{"x":11.75,"y":44.75,"v":0.85},
{"x":10.25,"y":44.65,"v":2},{"x":10.35,"y":44.65,"v":2.6},{"x":10.45,"y":44.65,"v":3.4},{"x":10.55,"y":44.65,"v":3.6},{"x":10.65,"y":44.65,"v":2.8},{"x":10.75,"y":44.65,"v":2.4},{"x":10.85,"y":44.65,"v":2.2},{"x":10.95,"y":44.65,"v":2.6},{"x":11.05,"y":44.65,"v":3},{"x":11.15,"y":44.65,"v":3.2},{"x":11.25,"y":44.65,"v":2.4},{"x":11.35,"y":44.65,"v":1.7},{"x":11.45,"y":44.65,"v":1.3},{"x":11.55,"y":44.65,"v":1},{"x":11.65,"y":44.65,"v":0.85},{"x":11.75,"y":44.65,"v":0.7}],
"coast":[{"g":"E","o":1,"x":13,"y":45.635},{"g":"E","o":2,"x":12.888,"y":45.598},{"g":"E","o":3,"x":12.766,"y":45.546},{"g":"E","o":4,"x":12.599,"y":45.492},{"g":"E","o":5,"x":12.493,"y":45.476},{"g":"E","o":6,"x":12.402,"y":45.492},{"g":"E","o":7,"x":12.311,"y":45.461},{"g":"E","o":8,"x":12.265,"y":45.4},{"g":"E","o":9,"x":12.244,"y":45.324},{"g":"E","o":10,"x":12.226,"y":45.233},{"g":"E","o":11,"x":12.265,"y":45.193},{"g":"E","o":12,"x":12.304,"y":45.181},{"g":"E","o":13,"x":12.304,"y":45.096},{"g":"E","o":14,"x":12.356,"y":45.05},{"g":"E","o":15,"x":12.402,"y":45.005},{"g":"E","o":16,"x":12.462,"y":44.989},{"g":"E","o":17,"x":12.529,"y":44.974},{"g":"E","o":18,"x":12.523,"y":44.928},{"g":"E","o":19,"x":12.462,"y":44.883},{"g":"E","o":20,"x":12.432,"y":44.837},{"g":"E","o":21,"x":12.371,"y":44.816},{"g":"E","o":22,"x":12.326,"y":44.837},{"g":"E","o":23,"x":12.274,"y":44.822},{"g":"E","o":24,"x":12.265,"y":44.746},{"g":"E","o":25,"x":12.265,"y":44.67},{"g":"E","o":26,"x":12.28,"y":44.548},{"g":"E","o":27,"x":12.295,"y":44.457},{"g":"E","o":28,"x":12.341,"y":44.335},{"g":"E","o":29,"x":12.402,"y":44.259},{"g":"E","o":30,"x":12.493,"y":44.152},{"g":"E","o":31,"x":12.599,"y":44.046},{"g":"E","o":32,"x":12.675,"y":44},{"g":"E","o":33,"x":13,"y":44,"e":1},
{"g":"W","o":1,"x":9,"y":44.387},{"g":"W","o":2,"x":9.076,"y":44.374},{"g":"W","o":3,"x":9.137,"y":44.335},{"g":"W","o":4,"x":9.207,"y":44.311},{"g":"W","o":5,"x":9.237,"y":44.344},{"g":"W","o":6,"x":9.304,"y":44.311},{"g":"W","o":7,"x":9.395,"y":44.274},{"g":"W","o":8,"x":9.501,"y":44.222},{"g":"W","o":9,"x":9.592,"y":44.152},{"g":"W","o":10,"x":9.729,"y":44.107},{"g":"W","o":11,"x":9.82,"y":44.046},{"g":"W","o":12,"x":9.835,"y":44.091},{"g":"W","o":13,"x":9.881,"y":44.097},{"g":"W","o":14,"x":9.957,"y":44.055},{"g":"W","o":15,"x":10.048,"y":44.037},{"g":"W","o":16,"x":10.118,"y":44},{"g":"W","o":17,"x":9,"y":44,"e":1},
{"g":"A","o":1,"x":12.143,"y":45.303},{"g":"A","o":2,"x":12.189,"y":45.315},{"g":"A","o":3,"x":12.204,"y":45.279},{"g":"A","o":4,"x":12.174,"y":45.248},{"g":"A","o":5,"x":12.153,"y":45.27},{"g":"A","o":6,"x":12.143,"y":45.303},
{"g":"B","o":1,"x":12.447,"y":45.553},{"g":"B","o":2,"x":12.508,"y":45.574},{"g":"B","o":3,"x":12.529,"y":45.528},{"g":"B","o":4,"x":12.478,"y":45.507},{"g":"B","o":5,"x":12.432,"y":45.516},{"g":"B","o":6,"x":12.447,"y":45.553},
{"g":"C","o":1,"x":12.396,"y":44.852},{"g":"C","o":2,"x":12.417,"y":44.907},{"g":"C","o":3,"x":12.447,"y":44.889},{"g":"C","o":4,"x":12.432,"y":44.837},{"g":"C","o":5,"x":12.402,"y":44.816},{"g":"C","o":6,"x":12.396,"y":44.852},
{"g":"L1","o":1,"x":12.371,"y":45.507},{"g":"L1","o":2,"x":12.584,"y":45.546},
{"g":"L2","o":1,"x":12.317,"y":45.345},{"g":"L2","o":2,"x":12.432,"y":45.431},
{"g":"L3","o":1,"x":12.317,"y":45.437},{"g":"L3","o":2,"x":12.371,"y":45.446},
{"g":"L4","o":1,"x":12.304,"y":45.102},{"g":"L4","o":2,"x":12.335,"y":45.081},
{"g":"L5","o":1,"x":12.356,"y":45.02},{"g":"L5","o":2,"x":12.386,"y":45.035}],
"hatch":[{"x":12.258,"y":45.371,"x2":12.367,"y2":45.479},{"x":12.231,"y":45.27,"x2":12.443,"y2":45.482},{"x":12.244,"y":45.211,"x2":12.511,"y2":45.476},{"x":12.29,"y":45.185,"x2":12.598,"y2":45.491},{"x":12.306,"y":45.127,"x2":12.708,"y2":45.527},{"x":12.33,"y":45.078,"x2":12.83,"y2":45.576},{"x":12.368,"y":45.043,"x2":12.947,"y2":45.62},{"x":12.406,"y":45.009,"x2":13,"y2":45.6},{"x":12.461,"y":44.991,"x2":13,"y2":45.527},{"x":12.516,"y":44.973,"x2":13,"y2":45.455},{"x":12.264,"y":44.649,"x2":13,"y2":45.382},{"x":12.273,"y":44.585,"x2":13,"y2":45.309},{"x":12.281,"y":44.521,"x2":13,"y2":45.236},{"x":12.288,"y":44.455,"x2":13,"y2":45.164},{"x":12.308,"y":44.402,"x2":13,"y2":45.091},{"x":12.328,"y":44.349,"x2":13,"y2":45.018},{"x":12.358,"y":44.306,"x2":13,"y2":44.945},{"x":12.388,"y":44.264,"x2":13,"y2":44.873},{"x":12.425,"y":44.227,"x2":13,"y2":44.8},{"x":12.462,"y":44.192,"x2":13,"y2":44.727},{"x":12.493,"y":44.15,"x2":13,"y2":44.655},{"x":12.53,"y":44.114,"x2":13,"y2":44.582},{"x":12.566,"y":44.077,"x2":13,"y2":44.509},{"x":12.604,"y":44.042,"x2":13,"y2":44.436},{"x":12.648,"y":44.014,"x2":13,"y2":44.364},{"x":12.708,"y":44,"x2":13,"y2":44.291},{"x":12.781,"y":44,"x2":13,"y2":44.218},{"x":12.854,"y":44,"x2":13,"y2":44.145},{"x":12.927,"y":44,"x2":13,"y2":44.073},
{"x":9,"y":44.345,"x2":9.036,"y2":44.381},{"x":9,"y":44.273,"x2":9.091,"y2":44.364},{"x":9,"y":44.2,"x2":9.137,"y2":44.336},{"x":9,"y":44.127,"x2":9.191,"y2":44.317},{"x":9,"y":44.055,"x2":9.273,"y2":44.326},{"x":9.018,"y":44,"x2":9.323,"y2":44.304},{"x":9.091,"y":44,"x2":9.374,"y2":44.282},{"x":9.164,"y":44,"x2":9.425,"y2":44.259},{"x":9.237,"y":44,"x2":9.474,"y2":44.235},{"x":9.311,"y":44,"x2":9.52,"y2":44.208},{"x":9.384,"y":44,"x2":9.56,"y2":44.176},{"x":9.457,"y":44,"x2":9.605,"y2":44.147},{"x":9.53,"y":44,"x2":9.66,"y2":44.13},{"x":9.603,"y":44,"x2":9.715,"y2":44.112},{"x":9.676,"y":44,"x2":9.762,"y2":44.085},{"x":9.749,"y":44,"x2":9.797,"y2":44.048},{"x":9.822,"y":44,"x2":9.906,"y2":44.084},{"x":9.895,"y":44,"x2":9.95,"y2":44.055},{"x":9.968,"y":44,"x2":10.012,"y2":44.044},{"x":10.041,"y":44,"x2":10.068,"y2":44.027}]
},
"concat":[
{"width":439,"height":198,"layer":[
{"data":{"name":"a"},"mark":{"type":"rect","width":22.4,"height":22.4,"clip":true},"encoding":{"x":{"field":"x","type":"quantitative","scale":{"domain":[9,13],"nice":false,"zero":false},"axis":{"zindex":1,"values":[9,9.5,10,10.5,11,11.5,12,12.5,13],"labelExpr":"datum.value%1==0?datum.value+'° E':''","tickOpacity":{"condition":{"test":"datum.value%1==0","value":1},"value":0}}},"y":{"field":"y","type":"quantitative","scale":{"domain":[44,45.8],"nice":false,"zero":false},"axis":{"zindex":1,"values":[44,44.25,44.5,44.75,45,45.25,45.5,45.75],"labelExpr":"datum.value%1==0?datum.value+'° N':''","tickOpacity":{"condition":{"test":"datum.value%1==0","value":1},"value":0}}},"color":{"field":"v","type":"quantitative","scale":{"domain":[0.05,0.1,0.2,0.5,1,2,5,10,20,50,100,200],"range":["#4d4d4d","#4f4e57","#5f5085","#7c5098","#955a95","#b8648a","#d5767c","#ef8e64","#fbab50","#fcd062","#f4ef9c","#fdfdc8"]}}}},
{"data":{"name":"aF"},"mark":{"type":"rect","width":11.4,"height":11.4,"clip":true},"encoding":{"x":{"field":"x","type":"quantitative"},"y":{"field":"y","type":"quantitative"},"color":{"field":"v","type":"quantitative"}}},
{"data":{"name":"coast"},"mark":{"type":"line","fill":"white","strokeOpacity":0,"clip":true},"encoding":{"x":{"field":"x","type":"quantitative"},"y":{"field":"y","type":"quantitative"},"detail":{"field":"g"},"order":{"field":"o"}}},
{"data":{"name":"hatch"},"mark":{"type":"rule","stroke":"#2cc8d0","strokeWidth":1.5},"encoding":{"x":{"field":"x","type":"quantitative"},"y":{"field":"y","type":"quantitative"},"x2":{"field":"x2"},"y2":{"field":"y2"}}},
{"data":{"name":"coast"},"transform":[{"filter":"datum.e!=1"}],"mark":{"type":"line","stroke":"black","strokeWidth":2.5,"clip":true},"encoding":{"x":{"field":"x","type":"quantitative"},"y":{"field":"y","type":"quantitative"},"detail":{"field":"g"},"order":{"field":"o"}}},
{"data":{"values":[{"x":7.82,"y":46.206,"x2":18.55,"y2":46.206},{"x":7.82,"y":46.206,"x2":7.82,"y2":43.579},{"x":18.55,"y":46.206,"x2":18.55,"y2":43.579},{"x":7.82,"y":43.579,"x2":18.55,"y2":43.579}]},"mark":{"type":"rule","stroke":"black","strokeWidth":2.5},"encoding":{"x":{"field":"x","type":"quantitative"},"y":{"field":"y","type":"quantitative"},"x2":{"field":"x2"},"y2":{"field":"y2"}}},
{"data":{"values":[{"x":10.302,"y":46.424,"x2":11.379,"y2":45.988},{"x":14.8,"y":46.424,"x2":17.163,"y2":45.988},{"x":7.601,"y":45.815,"x2":8.04,"y2":43.979}]},"mark":{"type":"rect","fill":"white","stroke":"black","strokeWidth":2.5,"cornerRadius":2},"encoding":{"x":{"field":"x","type":"quantitative"},"y":{"field":"y","type":"quantitative"},"x2":{"field":"x2"},"y2":{"field":"y2"}}},
{"data":{"values":[{"x":10.844,"y":46.2,"t":"Target"},{"x":15.977,"y":46.2,"t":"Reconstruction"}]},"mark":{"type":"text","baseline":"middle"},"encoding":{"x":{"field":"x","type":"quantitative"},"y":{"field":"y","type":"quantitative"},"text":{"field":"t"}}},
{"data":{"values":[{"x":7.519,"y":46.479,"t":"(a)"},{"x":13.459,"y":46.479,"t":"(b)"}]},"mark":{"type":"text","baseline":"middle","align":"left"},"encoding":{"x":{"field":"x","type":"quantitative"},"y":{"field":"y","type":"quantitative"},"text":{"field":"t"}}},
{"data":{"values":[{"x":7.82,"y":44.87,"t":"Case I"}]},"mark":{"type":"text","baseline":"middle","angle":-90},"encoding":{"x":{"field":"x","type":"quantitative"},"y":{"field":"y","type":"quantitative"},"text":{"field":"t"}}}
]},
{"width":439,"height":198,"layer":[
{"data":{"name":"b"},"mark":{"type":"rect","width":22.4,"height":22.4,"clip":true},"encoding":{"x":{"field":"x","type":"quantitative","scale":{"domain":[9,13],"nice":false,"zero":false},"axis":{"zindex":1,"values":[9,9.5,10,10.5,11,11.5,12,12.5,13],"labelExpr":"datum.value%1==0?datum.value+'° E':''","tickOpacity":{"condition":{"test":"datum.value%1==0","value":1},"value":0}}},"y":{"field":"y","type":"quantitative","scale":{"domain":[44,45.8],"nice":false,"zero":false},"axis":{"zindex":1,"values":[44,44.25,44.5,44.75,45,45.25,45.5,45.75],"labelExpr":"datum.value%1==0?datum.value+'° N':''","tickOpacity":{"condition":{"test":"datum.value%1==0","value":1},"value":0}}},"color":{"field":"v","type":"quantitative"}}},
{"data":{"name":"bF"},"mark":{"type":"rect","width":11.4,"height":11.4,"clip":true},"encoding":{"x":{"field":"x","type":"quantitative"},"y":{"field":"y","type":"quantitative"},"color":{"field":"v","type":"quantitative"}}},
{"data":{"name":"coast"},"mark":{"type":"line","fill":"white","strokeOpacity":0,"clip":true},"encoding":{"x":{"field":"x","type":"quantitative"},"y":{"field":"y","type":"quantitative"},"detail":{"field":"g"},"order":{"field":"o"}}},
{"data":{"name":"hatch"},"mark":{"type":"rule","stroke":"#2cc8d0","strokeWidth":1.5},"encoding":{"x":{"field":"x","type":"quantitative"},"y":{"field":"y","type":"quantitative"},"x2":{"field":"x2"},"y2":{"field":"y2"}}},
{"data":{"name":"coast"},"transform":[{"filter":"datum.e!=1"}],"mark":{"type":"line","stroke":"black","strokeWidth":2.5,"clip":true},"encoding":{"x":{"field":"x","type":"quantitative"},"y":{"field":"y","type":"quantitative"},"detail":{"field":"g"},"order":{"field":"o"}}}
]},
{"width":27,"height":198,"view":{"stroke":null},"layer":[
{"data":{"values":[{"a":-2.233,"b":-1.233,"p":-0.5,"q":9.5}]},"mark":{"type":"rect","stroke":"#333","strokeWidth":1,"fill":{"gradient":"linear","x1":0,"y1":1,"x2":0,"y2":0,"stops":[{"offset":0,"color":"#4d4d4d"},{"offset":0.05,"color":"#4f4e57"},{"offset":0.15,"color":"#5f5085"},{"offset":0.25,"color":"#7c5098"},{"offset":0.35,"color":"#955a95"},{"offset":0.45,"color":"#b8648a"},{"offset":0.55,"color":"#d5767c"},{"offset":0.65,"color":"#ef8e64"},{"offset":0.75,"color":"#fbab50"},{"offset":0.85,"color":"#fcd062"},{"offset":0.95,"color":"#f4ef9c"},{"offset":1,"color":"#fdfdc8"}]}},"encoding":{"x":{"field":"a","type":"quantitative","scale":{"domain":[0,1],"nice":false,"zero":false},"axis":null},"x2":{"field":"b"},"y":{"field":"p","type":"quantitative","scale":{"domain":[5.538,9.346],"nice":false,"zero":false},"axis":null},"y2":{"field":"q"}}},
{"data":{"values":[{"x":-2.233,"p":9.5,"o":1},{"x":-1.733,"p":10,"o":2},{"x":-1.233,"p":9.5,"o":3}]},"mark":{"type":"line","fill":"#fdfdc8","stroke":"#333","strokeWidth":1},"encoding":{"x":{"field":"x","type":"quantitative"},"y":{"field":"p","type":"quantitative"},"order":{"field":"o"}}},
{"data":{"values":[{"x":-2.233,"p":-0.5,"o":1},{"x":-1.733,"p":-0.98,"o":2},{"x":-1.233,"p":-0.5,"o":3}]},"mark":{"type":"line","fill":"#8c8c8c","stroke":"#333","strokeWidth":1},"encoding":{"x":{"field":"x","type":"quantitative"},"y":{"field":"p","type":"quantitative"},"order":{"field":"o"}}},
{"data":{"values":[{"x":-1.233,"x2":-0.974,"p":0},{"x":-1.233,"x2":-0.974,"p":1},{"x":-1.233,"x2":-0.974,"p":2},{"x":-1.233,"x2":-0.974,"p":3},{"x":-1.233,"x2":-0.974,"p":4},{"x":-1.233,"x2":-0.974,"p":5},{"x":-1.233,"x2":-0.974,"p":6},{"x":-1.233,"x2":-0.974,"p":7},{"x":-1.233,"x2":-0.974,"p":8},{"x":-1.233,"x2":-0.974,"p":9}]},"mark":{"type":"rule","stroke":"#222","strokeWidth":1},"encoding":{"x":{"field":"x","type":"quantitative"},"x2":{"field":"x2"},"y":{"field":"p","type":"quantitative"}}},
{"data":{"values":[{"x":-0.42,"p":0,"t":"0.1"},{"x":-0.42,"p":1,"t":"0.2"},{"x":-0.42,"p":2,"t":"0.5"},{"x":-0.42,"p":3,"t":"1.0"},{"x":-0.42,"p":4,"t":"2.0"},{"x":-0.42,"p":5,"t":"5.0"},{"x":-0.42,"p":6,"t":"10.0"},{"x":-0.42,"p":7,"t":"20.0"},{"x":-0.42,"p":8,"t":"50.0"},{"x":-0.42,"p":9,"t":"100.0"}]},"mark":{"type":"text","font":"DejaVu Sans","fontSize":21,"align":"left","baseline":"middle"},"encoding":{"x":{"field":"x","type":"quantitative"},"y":{"field":"p","type":"quantitative"},"text":{"field":"t"}}},
{"data":{"values":[{"x":3,"p":3.5,"t":"PGA (%"},{"x":3,"p":5.256,"t":")"}]},"mark":{"type":"text","font":"DejaVu Sans","fontSize":21,"angle":-90,"align":"left","baseline":"alphabetic"},"encoding":{"x":{"field":"x","type":"quantitative"},"y":{"field":"p","type":"quantitative"},"text":{"field":"t"}}},
{"data":{"values":[{"x":3,"p":5,"t":"g"}]},"mark":{"type":"text","font":"DejaVu Sans","fontStyle":"italic","fontSize":21,"angle":-90,"align":"left","baseline":"alphabetic"},"encoding":{"x":{"field":"x","type":"quantitative"},"y":{"field":"p","type":"quantitative"},"text":{"field":"t"}}}
]},
{"width":439,"height":198,"layer":[
{"data":{"name":"c"},"mark":{"type":"rect","width":22.4,"height":22.4,"clip":true},"encoding":{"x":{"field":"x","type":"quantitative","scale":{"domain":[9,13],"nice":false,"zero":false},"axis":{"zindex":1,"values":[9,9.5,10,10.5,11,11.5,12,12.5,13],"labelExpr":"datum.value%1==0?datum.value+'° E':''","tickOpacity":{"condition":{"test":"datum.value%1==0","value":1},"value":0}}},"y":{"field":"y","type":"quantitative","scale":{"domain":[44,45.8],"nice":false,"zero":false},"axis":{"zindex":1,"values":[44,44.25,44.5,44.75,45,45.25,45.5,45.75],"labelExpr":"datum.value%1==0?datum.value+'° N':''","tickOpacity":{"condition":{"test":"datum.value%1==0","value":1},"value":0}}},"color":{"field":"v","type":"quantitative"}}},
{"data":{"name":"cF"},"mark":{"type":"rect","width":11.4,"height":11.4,"clip":true},"encoding":{"x":{"field":"x","type":"quantitative"},"y":{"field":"y","type":"quantitative"},"color":{"field":"v","type":"quantitative"}}},
{"data":{"name":"coast"},"mark":{"type":"line","fill":"white","strokeOpacity":0,"clip":true},"encoding":{"x":{"field":"x","type":"quantitative"},"y":{"field":"y","type":"quantitative"},"detail":{"field":"g"},"order":{"field":"o"}}},
{"data":{"name":"hatch"},"mark":{"type":"rule","stroke":"#2cc8d0","strokeWidth":1.5},"encoding":{"x":{"field":"x","type":"quantitative"},"y":{"field":"y","type":"quantitative"},"x2":{"field":"x2"},"y2":{"field":"y2"}}},
{"data":{"name":"coast"},"transform":[{"filter":"datum.e!=1"}],"mark":{"type":"line","stroke":"black","strokeWidth":2.5,"clip":true},"encoding":{"x":{"field":"x","type":"quantitative"},"y":{"field":"y","type":"quantitative"},"detail":{"field":"g"},"order":{"field":"o"}}},
{"data":{"values":[{"x":7.82,"y":46.206,"x2":18.55,"y2":46.206},{"x":7.82,"y":46.206,"x2":7.82,"y2":43.62},{"x":18.55,"y":46.206,"x2":18.55,"y2":43.62}]},"mark":{"type":"rule","stroke":"black","strokeWidth":2.5},"encoding":{"x":{"field":"x","type":"quantitative"},"y":{"field":"y","type":"quantitative"},"x2":{"field":"x2"},"y2":{"field":"y2"}}},
{"data":{"values":[{"x":7.601,"y":45.824,"x2":8.04,"y2":43.979}]},"mark":{"type":"rect","fill":"white","stroke":"black","strokeWidth":2.5,"cornerRadius":2},"encoding":{"x":{"field":"x","type":"quantitative"},"y":{"field":"y","type":"quantitative"},"x2":{"field":"x2"},"y2":{"field":"y2"}}},
{"data":{"values":[{"x":7.519,"y":46.479,"t":"(c)"},{"x":13.459,"y":46.479,"t":"(d)"}]},"mark":{"type":"text","baseline":"middle","align":"left"},"encoding":{"x":{"field":"x","type":"quantitative"},"y":{"field":"y","type":"quantitative"},"text":{"field":"t"}}},
{"data":{"values":[{"x":7.82,"y":44.906,"t":"Case II"}]},"mark":{"type":"text","baseline":"middle","angle":-90},"encoding":{"x":{"field":"x","type":"quantitative"},"y":{"field":"y","type":"quantitative"},"text":{"field":"t"}}}
]},
{"width":439,"height":198,"layer":[
{"data":{"name":"d"},"mark":{"type":"rect","width":22.4,"height":22.4,"clip":true},"encoding":{"x":{"field":"x","type":"quantitative","scale":{"domain":[9,13],"nice":false,"zero":false},"axis":{"zindex":1,"values":[9,9.5,10,10.5,11,11.5,12,12.5,13],"labelExpr":"datum.value%1==0?datum.value+'° E':''","tickOpacity":{"condition":{"test":"datum.value%1==0","value":1},"value":0}}},"y":{"field":"y","type":"quantitative","scale":{"domain":[44,45.8],"nice":false,"zero":false},"axis":{"zindex":1,"values":[44,44.25,44.5,44.75,45,45.25,45.5,45.75],"labelExpr":"datum.value%1==0?datum.value+'° N':''","tickOpacity":{"condition":{"test":"datum.value%1==0","value":1},"value":0}}},"color":{"field":"v","type":"quantitative"}}},
{"data":{"name":"dF"},"mark":{"type":"rect","width":11.4,"height":11.4,"clip":true},"encoding":{"x":{"field":"x","type":"quantitative"},"y":{"field":"y","type":"quantitative"},"color":{"field":"v","type":"quantitative"}}},
{"data":{"name":"coast"},"mark":{"type":"line","fill":"white","strokeOpacity":0,"clip":true},"encoding":{"x":{"field":"x","type":"quantitative"},"y":{"field":"y","type":"quantitative"},"detail":{"field":"g"},"order":{"field":"o"}}},
{"data":{"name":"hatch"},"mark":{"type":"rule","stroke":"#2cc8d0","strokeWidth":1.5},"encoding":{"x":{"field":"x","type":"quantitative"},"y":{"field":"y","type":"quantitative"},"x2":{"field":"x2"},"y2":{"field":"y2"}}},
{"data":{"name":"coast"},"transform":[{"filter":"datum.e!=1"}],"mark":{"type":"line","stroke":"black","strokeWidth":2.5,"clip":true},"encoding":{"x":{"field":"x","type":"quantitative"},"y":{"field":"y","type":"quantitative"},"detail":{"field":"g"},"order":{"field":"o"}}}
]}
]}
